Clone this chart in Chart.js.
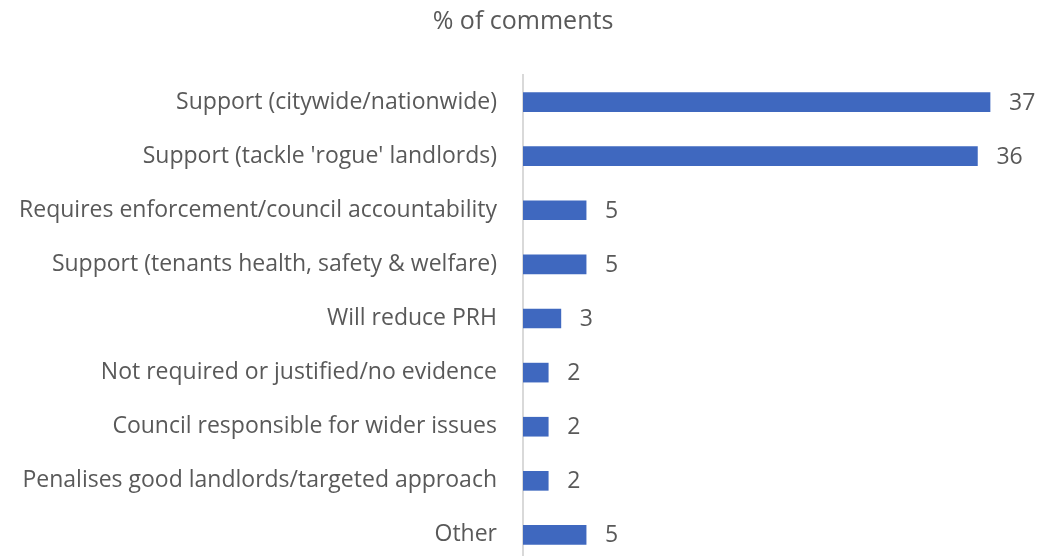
<!DOCTYPE html>
<html>
<head>
<meta charset="utf-8">
<script src="https://cdn.jsdelivr.net/npm/chart.js@4/dist/chart.umd.min.js"></script>
<style>
  html, body { margin: 0; padding: 0; background: #fff; overflow: hidden; }
  canvas { display: block; }
</style>
</head>
<body>
<canvas id="commentsChart" width="1038" height="562"></canvas>
<script>
// 数据
const categories = [
    'Support (citywide/nationwide)',
    "Support (tackle 'rogue' landlords)",
    'Requires enforcement/council accountability',
    'Support (tenants health, safety & welfare)',
    'Will reduce PRH',
    'Not required or justified/no evidence',
    'Council responsible for wider issues',
    'Penalises good landlords/targeted approach',
    'Other'
];
const percentComments = [37, 36, 5, 5, 3, 2, 2, 2, 5];
const chartTitle = '% of comments';

const textColor = '#595959';
const fontFamily = '"Open Sans", "Liberation Sans", sans-serif';

// 柱子右侧的数值标签
const valueLabels = {
    id: 'valueLabels',
    afterDatasetsDraw(chart) {
        const ctx = chart.ctx;
        const meta = chart.getDatasetMeta(0);
        ctx.save();
        ctx.font = '23px ' + fontFamily;
        ctx.fillStyle = textColor;
        ctx.textAlign = 'left';
        ctx.textBaseline = 'middle';
        meta.data.forEach((bar, i) => {
            ctx.fillText(String(percentComments[i]), bar.x + 19, bar.y + 1);
        });
        ctx.restore();
    }
};

const ctx = document.getElementById('commentsChart');
new Chart(ctx, {
    type: 'bar',
    data: {
        labels: categories,
        datasets: [{
            label: chartTitle,
            data: percentComments,
            backgroundColor: '#3f68bf',
            borderWidth: 0,
            barThickness: 19
        }]
    },
    options: {
        indexAxis: 'y',
        responsive: false,
        animation: false,
        layout: { padding: { left: 8, right: 0, top: 0, bottom: 0 } },
        plugins: {
            legend: { display: false },
            tooltip: { enabled: false },
            title: {
                display: true,
                text: chartTitle,
                color: textColor,
                font: { family: fontFamily, size: 25, weight: 'normal' },
                padding: { top: 7, bottom: 38 }
            }
        },
        scales: {
            x: {
                display: false,
                min: 0,
                max: 40.8
            },
            y: {
                // 固定坐标轴宽度，并去掉标签带来的上下留白
                afterFit(scale) {
                    scale.width = 515;
                    scale.paddingTop = 0;
                    scale.paddingBottom = 0;
                },
                grid: { display: false, drawTicks: false },
                border: { display: true, color: '#d9d9d9', width: 2 },
                ticks: {
                    color: textColor,
                    padding: 26,
                    font: { family: fontFamily, size: 23 }
                }
            }
        }
    },
    plugins: [valueLabels]
});
</script>
</body>
</html>
